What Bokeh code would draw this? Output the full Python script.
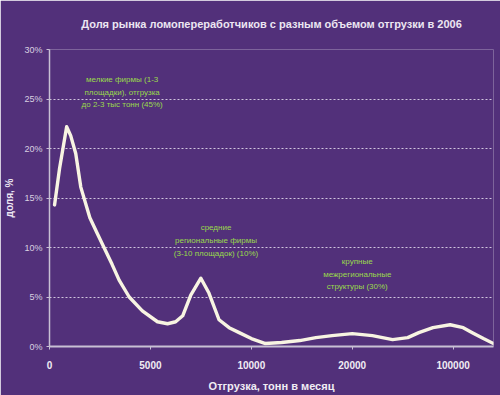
from bokeh.plotting import figure
from bokeh.models import Range1d, FixedTicker
from bokeh.embed import file_html
from bokeh.resources import INLINE
from bokeh.core.properties import value

# ---- data ----
tick_pos = [0, 1, 2, 3, 4]
tick_labels = ["0", "5000", "10000", "20000", "100000"]
y_ticks = [0, 5, 10, 15, 20, 25, 30]

x_pos = [0.05, 0.10, 0.17, 0.21, 0.26, 0.31, 0.40, 0.47, 0.54, 0.62, 0.69, 0.79, 0.92, 1.07,
         1.17, 1.25, 1.32, 1.40, 1.50, 1.58, 1.68, 1.78, 1.88, 2.00, 2.14, 2.30, 2.48, 2.64, 2.80,
         3.00, 3.20, 3.40, 3.55, 3.66, 3.80, 3.97, 4.10, 4.19, 4.30, 4.40]
share = [14.3, 18.0, 22.2, 21.3, 19.5, 16.1, 13.0, 11.5, 10.0, 8.3, 6.7, 5.0, 3.6, 2.5,
         2.3, 2.5, 3.1, 5.2, 6.9, 5.4, 2.7, 1.9, 1.4, 0.8, 0.3, 0.4, 0.6, 0.9, 1.1,
         1.3, 1.1, 0.7, 0.9, 1.4, 1.9, 2.2, 1.9, 1.4, 0.8, 0.3]

note_x = [0.72, 1.65, 3.05]
note_y = [25.7, 10.7, 7.3]
note_text = ["мелкие фирмы (1-3\nплощадки), отгрузка\nдо 2-3 тыс тонн (45%)",
             "средние\nрегиональные фирмы\n(3-10 площадок) (10%)",
             "крупные\nмежрегиональные\nструктуры (30%)"]

BG = "#52307a"

p = figure(frame_width=444, frame_height=297, output_backend="svg", toolbar_location=None,
           x_range=Range1d(0, 4.40), y_range=Range1d(0, 30),
           min_border_left=49, min_border_right=7, min_border_top=49, min_border_bottom=49)
p.background_fill_color = BG
p.border_fill_color = BG
p.outline_line_color = None

p.title.text = "Доля рынка ломопереработчиков с разным объемом отгрузки в 2006"
p.title.text_font = "Liberation Sans"
p.title.text_font_size = "11px"
p.title.text_font_style = "bold"
p.title.text_color = "#ece6f2"
p.title.align = "center"
p.title.offset = 6
p.title.vertical_align = "top"
p.title.standoff = 35

# x axis
p.xaxis.ticker = FixedTicker(ticks=tick_pos)
p.xaxis.major_label_overrides = {t: l for t, l in zip(tick_pos, tick_labels)}
p.xaxis.axis_label = "Отгрузка, тонн в месяц"
p.xaxis.axis_label_text_font = "Liberation Sans"
p.xaxis.axis_label_text_font_size = "11px"
p.xaxis.axis_label_text_font_style = "bold"
p.xaxis.axis_label_text_color = "#f0ecf4"
p.xaxis.axis_label_standoff = 8
p.xaxis.major_label_text_font = "Liberation Sans"
p.xaxis.major_label_text_font_size = "10px"
p.xaxis.major_label_text_font_style = "bold"
p.xaxis.major_label_text_color = "#f0ecf4"
p.xaxis.major_label_standoff = 11
p.xaxis.axis_line_color = "#c8c0d4"
p.xaxis.axis_line_width = 2
p.xaxis.major_tick_line_color = "#c8c0d4"
p.xaxis.major_tick_in = 0
p.xaxis.major_tick_out = 3
p.xaxis.minor_tick_line_color = None

# y axis
p.yaxis.ticker = FixedTicker(ticks=y_ticks)
p.yaxis.major_label_overrides = {t: f"{t}%" for t in y_ticks}
p.yaxis.axis_label = "доля, %"
p.yaxis.axis_label_text_font = "Liberation Sans"
p.yaxis.axis_label_text_font_size = "10px"
p.yaxis.axis_label_text_font_style = "bold"
p.yaxis.axis_label_text_color = "#ece6f2"
p.yaxis.axis_label_standoff = 6
p.yaxis.major_label_text_font = "Liberation Sans"
p.yaxis.major_label_text_font_size = "9px"
p.yaxis.major_label_text_color = "#d8d0e0"
p.yaxis.major_label_standoff = 4
p.yaxis.axis_line_color = "#c8c0d4"
p.yaxis.axis_line_width = 1.5
p.yaxis.major_tick_line_color = "#c8c0d4"
p.yaxis.major_tick_in = 0
p.yaxis.major_tick_out = 3
p.yaxis.minor_tick_line_color = None

p.xgrid.grid_line_color = None
p.ygrid.grid_line_color = "#e8e0f0"
p.ygrid.grid_line_alpha = 0.85
p.ygrid.grid_line_dash = "2 2"

p.line(x_pos, share, line_color="#f8f4e2", line_width=3.4, line_join="round", line_cap="round")

p.text(x=note_x, y=note_y, text=note_text, text_align="center", text_baseline="middle",
       text_font=value("Liberation Sans"), text_font_size="8px", text_color="#9ada4c",
       text_line_height=1.4)

html = file_html(p, INLINE)
html = html.replace("<body>", '<body style="background:%s;">' % BG, 1)
open("out.html", "w").write(html)
